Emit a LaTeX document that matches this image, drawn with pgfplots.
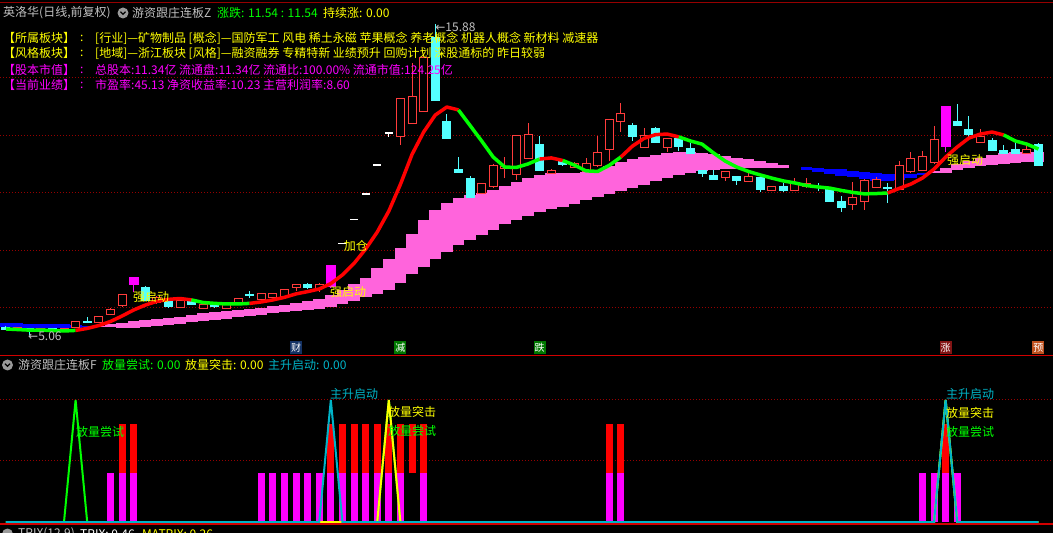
\documentclass[border=0pt]{standalone}
\usepackage{fontspec}
\setmainfont{Noto Sans CJK SC}
\newfontfamily\dejavu{DejaVu Sans}
\usepackage{pgfplots}
\pgfplotsset{compat=1.18}
\usepackage{pgfplotstable}

\definecolor{redc}{RGB}{255,60,60}
\definecolor{cyanc}{RGB}{84,255,255}
\definecolor{magc}{RGB}{255,0,255}
\definecolor{pinkc}{RGB}{255,100,220}
\definecolor{bluec}{RGB}{0,0,255}
\definecolor{gridc}{RGB}{150,0,0}
\definecolor{lred}{RGB}{255,0,0}
\definecolor{lgreen}{RGB}{0,255,0}
\definecolor{tealc}{RGB}{0,180,200}
\definecolor{grayt}{RGB}{192,192,192}
\definecolor{yel}{RGB}{255,255,0}
\definecolor{borderc}{RGB}{210,0,0}
\definecolor{navyc}{RGB}{20,50,100}
\definecolor{gbg}{RGB}{0,120,0}
\definecolor{rbg}{RGB}{130,20,20}
\definecolor{obg}{RGB}{190,80,30}

\tikzset{lab/.style={anchor=west, inner sep=0pt, font=\fontsize{12bp}{12bp}\selectfont},
 mk/.style={text=white, inner sep=0pt, minimum width=12bp, minimum height=13bp, font=\fontsize{10bp}{10bp}\selectfont}}

\pgfplotsset{
 stick/.style 2 args={draw=none, mark=none, forget plot,
   error bars/.cd, y dir=plus, y explicit, error mark=none,
   error bar style={draw=#1, line width=#2, line cap=butt}},
 stickb/.style 2 args={draw=none, mark=none, forget plot,
   error bars/.cd, y dir=both, y explicit, error mark=none,
   error bar style={draw=#1, line width=#2, line cap=butt}},
 maline/.style={line width=3.5bp, line join=round},
}

% candles: i, low, body bottom, body top, high
\pgfplotstableread{
i L lo hi H
1 5.20 5.25 5.30 5.33
3 5.18 5.22 5.27 5.32
5 5.20 5.22 5.26 5.31
6 5.32 5.34 5.51 5.55
8 5.49 5.50 5.68 5.69
9 5.78 5.78 5.93 6.00
10 6.05 6.11 6.45 6.45
13 6.15 6.20 6.36 6.42
15 6.02 6.03 6.24 6.26
17 5.98 6.00 6.10 6.12
19 5.99 6.00 6.14 6.15
20 6.16 6.17 6.31 6.33
22 6.30 6.31 6.49 6.50
23 6.36 6.38 6.49 6.52
24 6.40 6.42 6.63 6.65
25 6.59 6.73 6.80 6.80
27 6.56 6.70 6.80 6.87
34 11.67 11.98 13.27 13.27
35 12.43 12.43 13.34 14.52
36 12.85 12.85 14.70 14.77
41 9.95 10.00 10.31 10.33
42 10.17 10.24 10.94 11.01
43 10.52 10.88 10.92 11.25
44 10.45 10.66 11.98 11.98
45 11.20 11.22 12.02 12.43
47 10.66 10.70 10.77 10.82
49 10.88 10.92 11.02 11.08
50 10.75 10.77 11.01 11.22
51 10.90 10.97 11.39 11.98
52 11.11 11.53 12.54 12.54
53 12.12 12.50 12.75 13.13
55 11.58 11.60 11.98 12.26
57 11.43 11.60 11.88 11.90
62 10.42 10.56 10.73 10.76
64 10.40 10.42 10.56 10.70
66 10.07 10.10 10.21 10.23
68 10.08 10.10 10.31 10.52
69 10.17 10.24 10.31 10.52
73 9.41 9.62 9.83 10.38
74 9.41 9.72 10.42 10.49
75 10.19 10.21 10.45 10.56
77 10.12 10.14 10.94 11.11
78 10.70 10.77 11.18 11.43
79 10.78 10.80 11.25 11.46
80 11.01 11.08 11.84 12.33
84 11.75 11.77 11.95 12.23
88 11.37 11.39 11.50 11.67
}\upC

\pgfplotstableread{
i L lo hi H
0 5.24 5.27 5.32 5.36
2 5.06 5.22 5.27 5.30
4 5.19 5.23 5.28 5.30
7 5.47 5.52 5.53 5.68
12 6.26 6.28 6.70 6.77
14 6.00 6.07 6.24 6.26
16 6.12 6.14 6.28 6.30
18 6.00 6.06 6.08 6.13
21 6.35 6.44 6.46 6.59
26 6.66 6.73 6.83 6.87
37 13.23 13.23 15.39 15.88
38 11.91 11.91 12.50 12.75
39 10.73 10.73 10.83 11.25
40 9.83 9.86 10.49 10.59
46 10.78 10.80 11.70 11.98
48 10.95 11.00 11.10 11.15
54 11.81 11.98 12.33 12.43
56 11.75 11.77 12.23 12.30
58 11.46 11.63 11.88 11.90
59 11.37 11.39 11.53 11.74
60 10.56 10.70 10.77 10.80
61 10.47 10.49 10.59 10.80
63 10.28 10.45 10.56 10.59
65 10.03 10.14 10.52 10.54
67 10.03 10.10 10.24 10.35
70 10.07 10.21 10.23 10.35
71 9.72 9.72 10.17 10.17
72 9.34 9.51 9.69 9.90
76 9.65 10.17 10.19 10.35
82 12.35 12.37 12.50 13.10
83 11.91 12.05 12.19 12.68
85 11.48 11.50 11.84 11.91
86 11.37 11.39 11.46 11.67
87 11.37 11.39 11.50 11.77
89 10.97 10.97 11.70 11.74
}\dnC

\pgfplotstableread{
i L lo hi H
11 6.56 6.80 7.08 7.08
28 6.70 6.73 7.50 7.50
81 11.43 11.60 13.03 13.03
}\mgC

\pgfplotstableread{
i L lo hi H
29 8.25 8.25 8.25 8.25
30 9.08 9.08 9.08 9.08
31 9.98 9.98 9.98 9.98
32 10.98 10.98 10.98 10.98
33 11.95 12.08 12.08 12.08
}\flC

\pgfplotstableread{
i A B
0 5.34 5.48
1 5.32 5.48
2 5.30 5.46
3 5.30 5.44
4 5.30 5.44
5 5.30 5.43
6 5.32 5.41
7 5.36 5.39
8 5.39 5.37
9 5.43 5.34
10 5.48 5.32
11 5.53 5.32
12 5.58 5.34
13 5.62 5.37
14 5.65 5.41
15 5.70 5.44
16 5.76 5.51
17 5.81 5.55
18 5.86 5.58
19 5.90 5.63
20 5.93 5.69
21 5.97 5.72
22 6.00 5.76
23 6.07 5.83
24 6.12 5.86
25 6.17 5.90
26 6.24 5.93
27 6.31 5.98
28 6.45 6.03
29 6.63 6.14
30 6.83 6.26
31 7.04 6.38
32 7.39 6.49
33 7.70 6.64
34 8.09 6.87
35 8.57 7.18
36 9.06 7.43
37 9.41 7.70
38 9.65 7.95
39 9.84 8.19
40 9.93 8.37
41 10.00 8.54
42 10.10 8.71
43 10.24 8.92
44 10.38 9.06
45 10.52 9.20
46 10.63 9.34
47 10.70 9.43
48 10.70 9.51
49 10.71 9.63
50 10.73 9.76
51 10.80 9.85
52 10.94 9.95
53 11.08 10.06
54 11.18 10.17
55 11.25 10.27
56 11.32 10.40
57 11.39 10.51
58 11.43 10.62
59 11.43 10.70
60 11.39 10.77
61 11.34 10.80
62 11.29 10.83
63 11.23 10.83
64 11.18 10.87
65 11.11 10.87
66 11.04 10.87
67 10.97 10.87
68 10.87 10.87
69 10.80 10.89
70 10.73 10.87
71 10.66 10.85
72 10.59 10.82
73 10.56 10.77
74 10.49 10.73
75 10.43 10.70
76 10.42 10.66
77 10.45 10.66
78 10.52 10.66
79 10.63 10.68
80 10.77 10.70
81 10.87 10.71
82 11.01 10.80
83 11.11 10.87
84 11.22 10.94
85 11.32 10.97
86 11.39 11.01
87 11.43 11.04
88 11.43 11.08
89 11.43 11.08
}\bandT

\pgfplotstableread{
i lo len
9 0 0.8
10 0 0.8
11 0 0.8
22 0 0.8
23 0 0.8
24 0 0.8
25 0 0.8
26 0 0.8
27 0 0.8
28 0 0.8
29 0 0.8
30 0 0.8
31 0 0.8
32 0 0.8
33 0 0.8
34 0 0.8
36 0 0.8
52 0 0.8
53 0 0.8
79 0 0.8
80 0 0.8
81 0 0.8
82 0 0.8
}\magS

\pgfplotstableread{
i lo len
10 0.8 0.8
11 0.8 0.8
28 0.8 0.8
29 0.8 0.8
30 0.8 0.8
31 0.8 0.8
32 0.8 0.8
33 0.8 0.8
34 0.8 0.8
35 0.8 0.8
36 0.8 0.8
52 0.8 0.8
53 0.8 0.8
81 0.8 0.8
}\redS

\begin{document}
\begin{tikzpicture}
\fill[black] (-2bp,-2bp) rectangle (1055bp,535bp);

% ---------------- top panel ----------------
\begin{axis}[at={(0bp,177bp)}, anchor=south west, scale only axis,
  width=1053bp, height=353bp,
  xmin=-0.517, xmax=90.259, ymin=4.330, ymax=16.609,
  hide axis, clip=false]
\addplot[gridc, line width=1bp, dash pattern=on 1bp off 2bp, forget plot] coordinates {(-0.517,6) (90.259,6)};
\addplot[gridc, line width=1bp, dash pattern=on 1bp off 2bp, forget plot] coordinates {(-0.517,8) (90.259,8)};
\addplot[gridc, line width=1bp, dash pattern=on 1bp off 2bp, forget plot] coordinates {(-0.517,10) (90.259,10)};
\addplot[gridc, line width=1bp, dash pattern=on 1bp off 2bp, forget plot] coordinates {(-0.517,12) (90.259,12)};
\addplot[gridc, line width=1bp, dash pattern=on 1bp off 2bp, forget plot] coordinates {(-0.517,14) (90.259,14)};

% band: sticks between the two averages (pink where A above B, blue otherwise)
\addplot[stick={pinkc}{11.8bp}] table[x=i, y=B, y error plus expr={max(\thisrow{A}-\thisrow{B},0)}]{\bandT};
\addplot[stick={bluec}{11.8bp}] table[x=i, y=A, y error plus expr={max(\thisrow{B}-\thisrow{A},0)}]{\bandT};

% wicks
\addplot[stick={redc}{1bp}] table[x=i, y=L, y error plus expr=\thisrow{H}-\thisrow{L}]{\upC};
\addplot[stick={cyanc}{1bp}] table[x=i, y=L, y error plus expr=\thisrow{H}-\thisrow{L}]{\dnC};
\addplot[stick={magc}{1bp}] table[x=i, y=L, y error plus expr=\thisrow{H}-\thisrow{L}]{\mgC};
\addplot[stick={white}{1bp}] table[x=i, y=L, y error plus expr=\thisrow{H}-\thisrow{L}]{\flC};
% bodies
\addplot[stickb={redc}{9bp}] table[x=i, y=lo, y error plus expr=\thisrow{hi}-\thisrow{lo}+0.035, y error minus expr=0.035]{\upC};
\addplot[stick={black}{7bp}] table[x=i, y=lo, y error plus expr=\thisrow{hi}-\thisrow{lo}]{\upC};
\addplot[stickb={cyanc}{9bp}] table[x=i, y=lo, y error plus expr=\thisrow{hi}-\thisrow{lo}+0.02, y error minus expr=0.02]{\dnC};
\addplot[stick={magc}{10bp}] table[x=i, y=lo, y error plus expr=\thisrow{hi}-\thisrow{lo}]{\mgC};
\addplot[stickb={white}{8bp}] table[x=i, y=lo, y error plus expr=\thisrow{hi}-\thisrow{lo}+0.025, y error minus expr=0.025]{\flC};

% moving average, red while rising, green while falling
\addplot[maline, lgreen] coordinates {(0,5.27) (1,5.25) (2,5.23) (3,5.23) (4,5.22) (5,5.20) (6,5.22)};
\addplot[maline, lred] coordinates {(6,5.22) (7,5.29) (8,5.39) (9,5.53) (10,5.72) (11,5.93) (12,6.10) (13,6.23) (14,6.30) (15,6.33) (16,6.28)};
\addplot[maline, lgreen] coordinates {(16,6.28) (17,6.19) (18,6.16) (19,6.14) (20,6.14) (21,6.16)};
\addplot[maline, lred] coordinates {(21,6.16) (22,6.21) (23,6.28) (24,6.37) (25,6.49) (26,6.57) (27,6.66) (28,6.85) (29,7.15) (30,7.55) (31,8.05) (32,8.64) (33,9.37) (34,10.30) (35,11.34) (36,12.12) (37,12.71) (38,12.99) (39,12.89)};
\addplot[maline, lgreen] coordinates {(39,12.89) (40,12.35) (41,11.81) (42,11.25) (43,10.90) (44,10.89) (45,11.01) (46,11.18)};
\addplot[maline, lred] coordinates {(46,11.18) (47,11.22) (48,11.13)};
\addplot[maline, lgreen] coordinates {(48,11.13) (49,10.97) (50,10.77) (51,10.75) (52,10.96) (53,11.25)};
\addplot[maline, lred] coordinates {(53,11.25) (54,11.63) (55,11.90) (56,12.03) (57,12.05) (58,11.95)};
\addplot[maline, lgreen] coordinates {(58,11.95) (59,11.81) (60,11.70) (61,11.39) (62,11.11) (63,10.90) (64,10.75) (65,10.63) (66,10.52) (67,10.42) (68,10.35) (69,10.26) (70,10.21) (71,10.17) (72,10.09) (73,10.02) (74,9.97) (75,9.98) (76,10.00)};
\addplot[maline, lred] coordinates {(76,10.00) (77,10.16) (78,10.31) (79,10.52) (80,10.83) (81,11.25) (82,11.60) (83,11.91) (84,12.05) (85,12.12) (86,12.02)};
\addplot[maline, lgreen] coordinates {(86,12.02) (87,11.81) (88,11.70) (89,11.53)};

\node[overlay, lab, yel] at (axis cs:10.95,6.38) {强启动};
\node[overlay, lab, yel] at (axis cs:27.93,6.54) {强启动};
\node[overlay, lab, yel] at (axis cs:81.1,11.15) {强启动};
\node[overlay, lab, yel] at (axis cs:29.1,8.16) {加仓};
\node[overlay, lab, grayt] at (axis cs:1.9,5.03) {{\dejavu ←}5.06};
\node[overlay, lab, grayt] at (axis cs:37.0,15.76) {{\dejavu ←}15.88};

\node[overlay, mk, fill=navyc] at (axis cs:25,4.609) {财};
\node[overlay, mk, fill=gbg] at (axis cs:34,4.609) {减};
\node[overlay, mk, fill=gbg] at (axis cs:46,4.609) {跌};
\node[overlay, mk, fill=rbg] at (axis cs:81,4.609) {涨};
\node[overlay, mk, fill=obg] at (axis cs:89,4.609) {预};
\end{axis}

% ---------------- bottom panel ----------------
\begin{axis}[at={(0bp,8bp)}, anchor=south west, scale only axis,
  width=1053bp, height=169bp,
  xmin=-0.517, xmax=90.259, ymin=-0.049, ymax=2.721,
  hide axis, clip=false]
\addplot[gridc, line width=1bp, dash pattern=on 1bp off 2bp, forget plot] coordinates {(-0.517,1) (90.259,1)};
\addplot[gridc, line width=1bp, dash pattern=on 1bp off 2bp, forget plot] coordinates {(-0.517,2) (90.259,2)};
\addplot[stick={magc}{7bp}] table[x=i, y=lo, y error plus=len]{\magS};
\addplot[stick={lred}{7bp}] table[x=i, y=lo, y error plus=len]{\redS};
\addplot[lgreen, line width=2bp] coordinates {(0,0) (5,0) (6,2) (7,0) (32,0) (33,2) (34,0) (80,0) (81,2) (82,0) (89,0)};
\addplot[yel, line width=2bp] coordinates {(0,0) (32,0) (33,2) (34,0) (80,0) (81,2) (82,0) (89,0)};
\addplot[tealc, line width=2bp] coordinates {(0,0) (27,0) (28,2) (29,0) (80,0) (81,2) (82,0) (89,0)};

\node[overlay, lab, lgreen] at (axis cs:6.03,1.475) {放量尝试};
\node[overlay, lab, tealc] at (axis cs:27.93,2.10) {主升启动};
\node[overlay, lab, yel] at (axis cs:32.93,1.80) {放量突击};
\node[overlay, lab, lgreen] at (axis cs:32.93,1.49) {放量尝试};
\node[overlay, lab, tealc] at (axis cs:81.03,2.10) {主升启动};
\node[overlay, lab, yel] at (axis cs:81.03,1.79) {放量突击};
\node[overlay, lab, lgreen] at (axis cs:81.03,1.48) {放量尝试};
\end{axis}

\begin{scope}[x=1bp,y=1bp]
% ---------------- borders ----------------
\draw[gridc, line width=1bp] (0,530) -- (1053,530);
\draw[borderc, line width=1bp] (0,177) -- (1053,177);
\draw[borderc, line width=1.5bp] (0,8.8) -- (1053,8.8);

% ---------------- header texts ----------------
\node[lab, grayt] at (3,520) {英洛华(日线,前复权)};
\fill[grayt!80!black] (123,520) circle (5.5);
\draw[black, line width=1.2bp] (120.5,521.3) -- (123,518.8) -- (125.5,521.3);
\node[lab, grayt] at (132,520) {游资跟庄连板Z};
\node[lab, lgreen] at (217,520) {涨跌: 11.54 : 11.54};
\node[lab, yel] at (323,520) {持续涨: 0.00};

\node[lab, yel] at (3,495) {【所属板块】};
\node[lab, yel] at (80,495) {:};
\node[lab, yel] at (95,495) {[行业]—矿物制品 [概念]—国防军工 风电 稀土永磁 苹果概念 养老概念 机器人概念 新材料 减速器};
\node[lab, yel] at (3,480) {【风格板块】};
\node[lab, yel] at (80,480) {:};
\node[lab, yel] at (95,480) {[地域]—浙江板块 [风格]—融资融券 专精特新 业绩预升 回购计划 深股通标的 昨日较弱};
\node[lab, magc] at (3,463) {【股本市值】};
\node[lab, magc] at (80,463) {:};
\node[lab, magc] at (95,463) {总股本:11.34亿 流通盘:11.34亿 流通比:100.00\% 流通市值:124.25亿};
\node[lab, magc] at (3,448) {【当前业绩】};
\node[lab, magc] at (80,448) {:};
\node[lab, magc] at (95,448) {市盈率:45.13 净资收益率:10.23 主营利润率:8.60};

% bottom panel title
\fill[grayt!80!black] (7.5,168) circle (5.5);
\draw[black, line width=1.2bp] (5,169.3) -- (7.5,166.8) -- (10,169.3);
\node[lab, grayt] at (18,168) {游资跟庄连板F};
\node[lab, lgreen] at (102,168) {放量尝试: 0.00};
\node[lab, yel] at (185,168) {放量突击: 0.00};
\node[lab, tealc] at (268,168) {主升启动: 0.00};

% TRIX row (cut off)
\fill[grayt!80!black] (7.5,-1) circle (5.5);
\node[lab, grayt] at (18,-1) {TRIX(12,9)};
\node[lab, white] at (80,-1) {TRIX: 0.46};
\node[lab, yel] at (142,-1) {MATRIX: 0.26};
\end{scope}

\pgfresetboundingbox
\path[use as bounding box] (0bp,0bp) rectangle (1053bp,533bp);
\end{tikzpicture}
\end{document}
